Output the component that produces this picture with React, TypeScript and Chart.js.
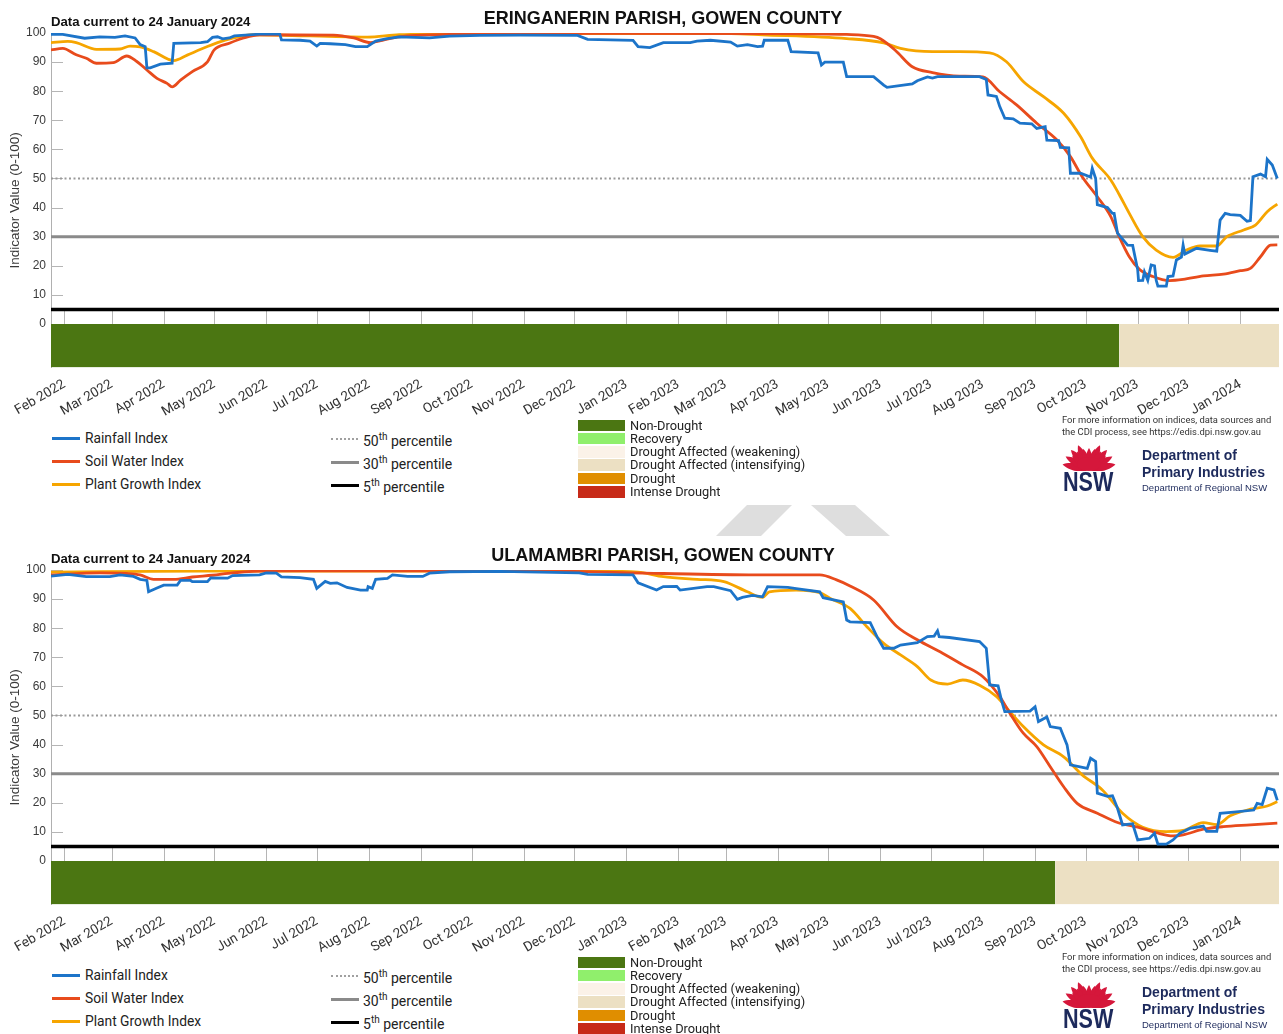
import React, { useEffect, useRef } from "react";
import { Chart, registerables } from "chart.js";

Chart.register(...registerables);

// ---------------- DATA ----------------
// x values are days since 24 January 2022 (end of period: 24 January 2024 = day 730)
const DAY_MAX = 730;
const MONTH_TICK_DAYS = [8, 36, 67, 97, 128, 158, 189, 220, 250, 281, 311, 342, 373, 401, 432, 462, 493, 523, 554, 585, 615, 646, 676, 707];
const MONTH_LABELS = ["Feb 2022", "Mar 2022", "Apr 2022", "May 2022", "Jun 2022", "Jul 2022", "Aug 2022", "Sep 2022", "Oct 2022", "Nov 2022", "Dec 2022", "Jan 2023", "Feb 2023", "Mar 2023", "Apr 2023", "May 2023", "Jun 2023", "Jul 2023", "Aug 2023", "Sep 2023", "Oct 2023", "Nov 2023", "Dec 2023", "Jan 2024"];
const Y_TICKS = [0, 10, 20, 30, 40, 50, 60, 70, 80, 90, 100];
const PERCENTILES = [50, 30, 5];
const PERCENTILE_LABELS = ["50", "30", "5"];
const SERIES_NAMES = ["Rainfall Index", "Soil Water Index", "Plant Growth Index"];
const CDI_CATEGORIES = ["Non-Drought", "Recovery", "Drought Affected (weakening)", "Drought Affected (intensifying)", "Drought", "Intense Drought"];

// Panel 1: Eringanerin Parish
const P1_TITLE = "ERINGANERIN PARISH, GOWEN COUNTY";
const P1_RAIN_X = [0, 7, 20, 29, 38, 44, 50, 53, 56, 57, 59, 65, 72, 73, 89, 93, 96, 99, 102, 106, 109, 124, 136, 137, 148, 154, 158, 160, 166, 175, 181, 188, 193, 199, 207, 225, 237, 255, 279, 313, 319, 346, 349, 356, 364, 380, 384, 392, 404, 408, 414, 420, 423, 424, 438, 440, 456, 458, 460, 471, 473, 489, 495, 497, 512, 515, 521, 524, 527, 552, 556, 557, 562, 564, 567, 572, 576, 583, 586, 591, 592, 599, 600, 605, 606, 612, 618, 619, 621, 622, 628, 631, 632, 634, 640, 643, 646, 646.5, 649, 650, 652, 654, 656, 657, 658, 663, 664, 667, 669, 672, 673, 674, 681, 689, 693, 695, 698, 701, 707, 711, 713, 714.5, 719, 722, 723, 726, 729];
const P1_RAIN_Y = [99.5, 99.5, 98.2, 98.7, 98.5, 99, 98.3, 96, 95.3, 88, 88, 89.3, 89.6, 96.4, 96.7, 97, 98.5, 98.7, 98, 98.3, 99, 99.6, 99.6, 97.6, 97.5, 97.2, 95.5, 96.4, 96.3, 96, 95.3, 95.3, 97.2, 98, 98.7, 98.3, 98.9, 99.2, 99.3, 99.2, 97.8, 97.5, 95.3, 95, 96.7, 96.7, 97.2, 97.5, 96.9, 95.5, 96, 95.3, 95.5, 97.5, 97.5, 93.6, 93.2, 89, 90, 90, 85, 85, 82.1, 81.3, 82.5, 83.6, 84.9, 84.5, 85, 85, 84, 78.7, 78.2, 74.7, 70.7, 70.5, 69, 68.8, 67.2, 67.8, 63.2, 63, 60.7, 60.5, 51.8, 51.8, 50.5, 53.5, 50, 41, 40, 38, 38, 31.2, 27.1, 27, 18.6, 14.9, 15, 17.9, 15, 20.3, 20, 15, 13, 13, 16.3, 16.5, 22, 23, 27.1, 24, 26, 25.3, 25, 35.7, 38, 37.6, 37.3, 35.3, 35.5, 50.6, 51.5, 50.6, 56.6, 54.6, 50];
const P1_SOIL_X = [0, 7, 15, 21, 27, 37, 45, 51, 57, 63, 69, 72, 77, 84, 93, 97, 106, 114, 124, 168, 180, 190, 197, 207, 237, 326, 423, 473, 489, 493, 502, 512, 524, 540, 554, 564, 574, 586, 598, 606, 613, 622, 630, 635, 641, 647, 655, 665, 673, 685, 697, 707, 713, 719, 725, 729];
const P1_SOIL_Y = [94.2, 94.7, 92.5, 91.3, 89.6, 89.8, 92.1, 90.2, 87.3, 84.4, 82.7, 81.5, 83.8, 86.7, 90.1, 94.2, 96.5, 98.2, 99.4, 99.3, 98.3, 96.7, 97.5, 98.7, 99.5, 99.9, 99.8, 99.5, 98.8, 98, 94, 88.4, 86.4, 85.2, 84.9, 79.8, 75.3, 69, 63.2, 57.5, 50.6, 43.7, 36.9, 30, 23.1, 18.8, 16.3, 14.9, 15.3, 16.5, 17.1, 18.3, 19.1, 23.1, 27.1, 27.2];
const P1_PLANT_X = [0, 10, 15, 27, 41, 47, 53, 61, 73, 81, 89, 99, 108, 120, 188, 207, 267, 404, 423, 473, 495, 505, 524, 540, 558, 568, 578, 590, 602, 612, 619, 630, 635, 641, 649, 657, 667, 675, 683, 693, 699, 709, 716, 723, 729];
const P1_PLANT_Y = [96.7, 97.1, 96.7, 94.4, 94.5, 95.5, 95.2, 93.6, 90.5, 92.4, 94.4, 96.7, 98.2, 99.4, 98.6, 99.4, 99.8, 99.8, 99.4, 98.1, 96.6, 94.7, 93.6, 93.6, 93.2, 90.1, 83.3, 78.1, 72.4, 64.4, 57, 49.5, 44.5, 38, 30, 25.4, 22.9, 25.4, 26.8, 26.8, 30, 32.3, 34, 38.6, 41.2];
const P1_CDI_START = [0, 635];
const P1_CDI_CLASS = [0, 3];

// Panel 2: Ulamambri Parish
const P2_TITLE = "ULAMAMBRI PARISH, GOWEN COUNTY";
const P2_RAIN_X = [0, 10, 21, 35, 41, 49, 53, 57, 58, 63, 67, 75, 77, 83, 84, 93, 95, 105, 108, 124, 128, 134, 137, 148, 156, 158, 163, 166, 170, 176, 184, 188, 188.5, 191, 193, 200, 203, 212, 221, 225, 237, 267, 314, 319, 346, 349, 360, 364, 372, 374, 390, 394, 404, 408, 411, 417, 423, 426, 438, 443, 457, 459, 471, 473, 475, 487, 491, 495, 501, 505, 515, 521, 525, 527, 528, 534, 552, 556, 558, 563, 565, 567, 582, 585, 587, 592, 594, 600, 604, 606, 616, 618, 621, 622, 628, 631, 634, 637, 643, 646, 653, 656, 658, 663, 667, 671, 677, 685, 687, 693, 695, 703, 715, 717, 720, 723, 727, 729];
const P2_RAIN_Y = [97.9, 98.5, 97.7, 97.7, 98.3, 97.8, 96.8, 96.4, 92.5, 93.8, 94.8, 94.8, 96.4, 96.4, 96, 96, 97.3, 97.2, 98.1, 98.3, 99, 98.9, 97.6, 97.4, 96.8, 93.7, 96.1, 95.4, 95.6, 94, 93.1, 93.1, 94.3, 93.7, 96.8, 97.1, 98.3, 97.8, 97.8, 98.9, 99.4, 99.5, 99, 98.5, 98.3, 95.6, 93.1, 94.3, 94.4, 93.1, 94.3, 94.3, 92.9, 89.9, 90.6, 91.3, 90.8, 94.3, 94, 93.6, 92.5, 90.5, 89, 82.8, 82.2, 81.9, 77.1, 73.1, 73.1, 74.2, 75, 77.1, 77.3, 79.1, 77.1, 76.8, 75.4, 73.1, 60.5, 60.2, 55.3, 51.3, 51.5, 53, 47.9, 49.5, 46.2, 45.6, 39.9, 33, 31.8, 35.3, 34.2, 23.3, 22.2, 22.4, 18.1, 12.4, 12.8, 7.2, 7.8, 9.5, 5.8, 5.8, 7.2, 9.5, 11.2, 12, 10.2, 10.2, 16.4, 16.8, 17.5, 19.8, 19.4, 25, 24.4, 20.8];
const P2_SOIL_X = [0, 29, 45, 53, 61, 73, 84, 96, 108, 128, 207, 285, 364, 423, 457, 467, 475, 489, 503, 515, 530, 542, 554, 564, 570, 578, 586, 594, 602, 610, 622, 634, 646, 657, 667, 673, 685, 697, 713, 729];
const P2_SOIL_Y = [98.3, 99, 98.8, 98.3, 96.8, 96.8, 97.6, 98.2, 99, 99.7, 99.7, 99.7, 98.8, 98.3, 98.3, 96.6, 94.5, 89.7, 80.5, 76, 71.4, 67.4, 63.3, 56.5, 50.8, 43.9, 39.3, 32.4, 25.5, 19.8, 16.4, 13.2, 11.6, 9.7, 8.6, 9, 10.9, 11.8, 12.4, 13];
const P2_PLANT_X = [0, 89, 325, 349, 364, 384, 400, 414, 423, 427, 443, 457, 463, 475, 485, 495, 505, 515, 523, 533, 542, 552, 562, 570, 578, 590, 602, 613, 625, 637, 649, 663, 673, 685, 693, 701, 713, 723, 729];
const P2_PLANT_Y = [99.3, 99.6, 99.6, 99.3, 97.7, 96.8, 96, 92.5, 90.6, 92.5, 93.1, 92.2, 90.3, 86.8, 80.5, 74.8, 70.8, 66.8, 62.2, 60.8, 62.2, 60.4, 56.5, 51.3, 46.2, 39.9, 35.8, 29.6, 24.4, 16.4, 11.6, 10.1, 10.5, 13.2, 12.5, 15.5, 17.8, 18.9, 20.4];
const P2_CDI_START = [0, 597];
const P2_CDI_CLASS = [0, 3];

// ---------------- STYLE ----------------
const BLUE = "#1c74c9";
const RED = "#e84b1c";
const ORANGE = "#f6a500";
const CDI_COLORS = ["#4b7612", "#90ef6c", "#fbf2e8", "#ece0c3", "#e08e00", "#c72a18"];
const PCT_COLORS = ["#9a9a9a", "#8a8a8a", "#000000"];
const BAR_MIN = -15;
const NAVY = "#1d2a5c";

const innerTicks = {
  id: "innerTicks",
  beforeDatasetsDraw(chart: any) {
    const { ctx, chartArea } = chart;
    const x = chart.scales.x;
    const y = chart.scales.y;
    ctx.save();
    ctx.strokeStyle = "#b5b5b5";
    ctx.lineWidth = 1;
    Y_TICKS.forEach((v) => {
      if (v === 0) return;
      const py = Math.round(y.getPixelForValue(v)) + 0.5;
      ctx.beginPath();
      ctx.moveTo(chartArea.left, py);
      ctx.lineTo(chartArea.left + 12, py);
      ctx.stroke();
    });
    const y0 = y.getPixelForValue(0);
    MONTH_TICK_DAYS.forEach((d) => {
      const px = Math.round(x.getPixelForValue(d)) + 0.5;
      ctx.beginPath();
      ctx.moveTo(px, y0);
      ctx.lineTo(px, y0 - 13);
      ctx.stroke();
    });
    ctx.restore();
  },
};

type PanelData = {
  title: string;
  rainX: number[]; rainY: number[];
  soilX: number[]; soilY: number[];
  plantX: number[]; plantY: number[];
  cdiStart: number[]; cdiClass: number[];
};

const PANELS: PanelData[] = [
  { title: P1_TITLE, rainX: P1_RAIN_X, rainY: P1_RAIN_Y, soilX: P1_SOIL_X, soilY: P1_SOIL_Y, plantX: P1_PLANT_X, plantY: P1_PLANT_Y, cdiStart: P1_CDI_START, cdiClass: P1_CDI_CLASS },
  { title: P2_TITLE, rainX: P2_RAIN_X, rainY: P2_RAIN_Y, soilX: P2_SOIL_X, soilY: P2_SOIL_Y, plantX: P2_PLANT_X, plantY: P2_PLANT_Y, cdiStart: P2_CDI_START, cdiClass: P2_CDI_CLASS },
];

const pts = (xs: number[], ys: number[]) => xs.map((x, i) => ({ x, y: ys[i] }));

function PanelChart({ p }: { p: PanelData }) {
  const ref = useRef<HTMLCanvasElement | null>(null);
  useEffect(() => {
    if (!ref.current) return;
    const lineBase = { pointRadius: 0, borderWidth: 2.8, fill: false };
    const datasets: any[] = [
      { ...lineBase, label: SERIES_NAMES[0], data: pts(p.rainX, p.rainY), borderColor: BLUE, tension: 0 },
      { ...lineBase, label: SERIES_NAMES[1], data: pts(p.soilX, p.soilY), borderColor: RED, cubicInterpolationMode: "monotone" },
      { ...lineBase, label: SERIES_NAMES[2], data: pts(p.plantX, p.plantY), borderColor: ORANGE, cubicInterpolationMode: "monotone" },
      { pointRadius: 0, fill: false, label: "p50", data: [{ x: 0, y: PERCENTILES[0] }, { x: DAY_MAX, y: PERCENTILES[0] }], borderColor: PCT_COLORS[0], borderWidth: 2, borderDash: [2, 2.5] },
      { pointRadius: 0, fill: false, label: "p30", data: [{ x: 0, y: PERCENTILES[1] }, { x: DAY_MAX, y: PERCENTILES[1] }], borderColor: PCT_COLORS[1], borderWidth: 3 },
      { pointRadius: 0, fill: false, label: "p5", data: [{ x: 0, y: PERCENTILES[2] }, { x: DAY_MAX, y: PERCENTILES[2] }], borderColor: PCT_COLORS[2], borderWidth: 3.5 },
    ];
    p.cdiStart.forEach((s, i) => {
      const e = i + 1 < p.cdiStart.length ? p.cdiStart[i + 1] : DAY_MAX;
      datasets.push({
        label: CDI_CATEGORIES[p.cdiClass[i]],
        data: [{ x: s, y: 0 }, { x: e, y: 0 }],
        borderColor: "rgba(0,0,0,0)",
        borderWidth: 0,
        pointRadius: 0,
        backgroundColor: CDI_COLORS[p.cdiClass[i]],
        fill: { value: BAR_MIN },
      });
    });
    const chart = new Chart(ref.current, {
      type: "line",
      data: { datasets },
      plugins: [innerTicks],
      options: {
        animation: false,
        responsive: false,
        maintainAspectRatio: false,
        devicePixelRatio: 1,
        layout: { padding: { top: 33, right: 4, left: 0, bottom: 0 } },
        plugins: { legend: { display: false }, tooltip: { enabled: false }, title: { display: false } },
        scales: {
          x: {
            type: "linear",
            min: 0,
            max: DAY_MAX,
            afterBuildTicks: (s: any) => { s.ticks = MONTH_TICK_DAYS.map((v) => ({ value: v })); },
            afterFit: (s: any) => { s.height = 52.4; },
            ticks: {
              autoSkip: false,
              minRotation: 30,
              maxRotation: 30,
              padding: 9,
              color: "#333",
              font: { family: "Roboto", size: 13.5 },
              callback: (v: any) => MONTH_LABELS[MONTH_TICK_DAYS.indexOf(Number(v))],
            },
            grid: { display: false, drawTicks: false },
            border: { display: false },
          },
          y: {
            min: BAR_MIN,
            max: 100,
            afterBuildTicks: (s: any) => { s.ticks = Y_TICKS.map((v) => ({ value: v })); },
            afterFit: (s: any) => { s.width = 51; },
            ticks: { padding: 5, color: "#3a3a3a", font: { family: "Liberation Sans", size: 12 } },
            grid: { display: false, drawTicks: false },
            border: { display: true, color: "#b0b0b0", width: 1 },
            title: { display: true, text: "Indicator Value (0-100)", color: "#3a3a3a", font: { family: "Liberation Sans", size: 13.5 }, padding: { top: 7, bottom: 0 } },
          },
        },
      } as any,
    });
    return () => chart.destroy();
  }, [p]);
  return <canvas ref={ref} width={1283} height={420} style={{ position: "absolute", left: 0, top: 0, width: 1283, height: 420 }} />;
}

function Txt({ x, y, size, children, style }: any) {
  return (
    <div style={{ position: "absolute", left: x, top: y, fontSize: size, lineHeight: 1, transform: "translateY(-50%)", whiteSpace: "nowrap", ...style }}>
      {children}
    </div>
  );
}

function Waratah({ x, y }: { x: number; y: number }) {
  const petal = (L: number, w: number) => `M0 0 C ${-w} ${-L * 0.35} ${-w * 0.6} ${-L * 0.8} 0 ${-L} C ${w * 0.6} ${-L * 0.8} ${w} ${-L * 0.35} 0 0 Z`;
  const outer = [-78, -60, -42, -24, 24, 42, 60, 78];
  const inner = [-50, -33, -16, 0, 16, 33, 50];
  return (
    <svg style={{ position: "absolute", left: x, top: y }} width={56} height={32} viewBox="0 0 56 32">
      <g transform="translate(28 31)" fill="#d5173b">
        {outer.map((a) => <path key={"o" + a} d={petal(27, 6)} transform={`rotate(${a})`} />)}
        {inner.map((a) => <path key={"i" + a} d={petal(22, 5)} transform={`rotate(${a})`} />)}
        <ellipse cx={0} cy={-6} rx={12} ry={7} />
      </g>
    </svg>
  );
}

function PanelDecor({ p }: { p: PanelData }) {
  const lineSample = (color: string, extra: any = {}) => ({ position: "absolute" as const, width: 28, height: 0, borderTop: `3px solid ${color}`, ...extra });
  return (
    <>
      <Txt x={51} y={22} size={13.2} style={{ fontFamily: "Liberation Sans", fontWeight: 700, color: "#111" }}>Data current to 24 January 2024</Txt>
      <div style={{ position: "absolute", left: 663, top: 18, fontSize: 18, lineHeight: 1, transform: "translate(-50%,-50%)", whiteSpace: "nowrap", fontFamily: "Liberation Sans", fontWeight: 700, color: "#111" }}>{p.title}</div>
      {/* series legend */}
      {SERIES_NAMES.map((n, i) => (
        <React.Fragment key={n}>
          <div style={lineSample([BLUE, RED, ORANGE][i], { left: 52, top: 437 + i * 23 })} />
          <Txt x={85} y={438.5 + i * 23} size={13.8} style={{ fontFamily: "Roboto", color: "#222" }}>{n}</Txt>
        </React.Fragment>
      ))}
      {/* percentile legend */}
      {PERCENTILE_LABELS.map((n, i) => (
        <React.Fragment key={n}>
          <div style={i === 0 ? { position: "absolute", left: 331, top: 438, width: 27, height: 0, borderTop: "2px dotted #a0a0a0" } : lineSample(PCT_COLORS[i], { left: 331, top: 438 + i * 23 })} />
          <Txt x={363} y={440.5 + i * 23} size={14} style={{ fontFamily: "Roboto", color: "#222" }}>
            {n}<span style={{ fontSize: 10, position: "relative", top: -6 }}>th</span> percentile
          </Txt>
        </React.Fragment>
      ))}
      {/* CDI legend */}
      {CDI_CATEGORIES.map((c, i) => (
        <React.Fragment key={c}>
          <div style={{ position: "absolute", left: 578, top: 419.5 + i * 13.3, width: 47, height: 11.5, background: CDI_COLORS[i] }} />
          <Txt x={630} y={425.5 + i * 13.3} size={12.8} style={{ fontFamily: "Roboto", color: "#222" }}>{c}</Txt>
        </React.Fragment>
      ))}
      {/* info + logo */}
      <Txt x={1062} y={419.5} size={9.4} style={{ fontFamily: "Roboto", color: "#333" }}>For more information on indices, data sources and</Txt>
      <Txt x={1062} y={431.5} size={9.4} style={{ fontFamily: "Roboto", color: "#333" }}>the CDI process, see https://edis.dpi.nsw.gov.au</Txt>
      <Waratah x={1061} y={439} />
      <div style={{ position: "absolute", left: 1063, top: 482, fontSize: 27, lineHeight: 1, fontFamily: "Liberation Sans", fontWeight: 700, color: NAVY, transform: "translateY(-50%) scaleX(0.8)", transformOrigin: "left center" }}>NSW</div>
      <Txt x={1142} y={455} size={14} style={{ fontFamily: "Liberation Sans", fontWeight: 700, color: NAVY }}>Department of</Txt>
      <Txt x={1142} y={472} size={14} style={{ fontFamily: "Liberation Sans", fontWeight: 700, color: NAVY }}>Primary Industries</Txt>
      <Txt x={1142} y={488} size={9.5} style={{ fontFamily: "Liberation Sans", color: NAVY }}>Department of Regional NSW</Txt>
    </>
  );
}

export default function App() {
  return (
    <div style={{ position: "absolute", left: 0, top: 0, width: 1283, height: 1034, background: "#fff", overflow: "hidden" }}>
      {PANELS.map((p, i) => (
        <div key={p.title} style={{ position: "absolute", left: 0, top: i * 537, width: 1283, height: 500 }}>
          <PanelChart p={p} />
          <PanelDecor p={p} />
        </div>
      ))}
      <div style={{ position: "absolute", left: 716, top: 505, width: 78, height: 31, background: "#dedede", clipPath: "polygon(0px 31px, 31px 0px, 76px 0px, 45px 31px)" }} />
      <div style={{ position: "absolute", left: 811, top: 505, width: 80, height: 31, background: "#dedede", clipPath: "polygon(0px 0px, 44px 0px, 79px 31px, 35px 31px)" }} />
    </div>
  );
}
